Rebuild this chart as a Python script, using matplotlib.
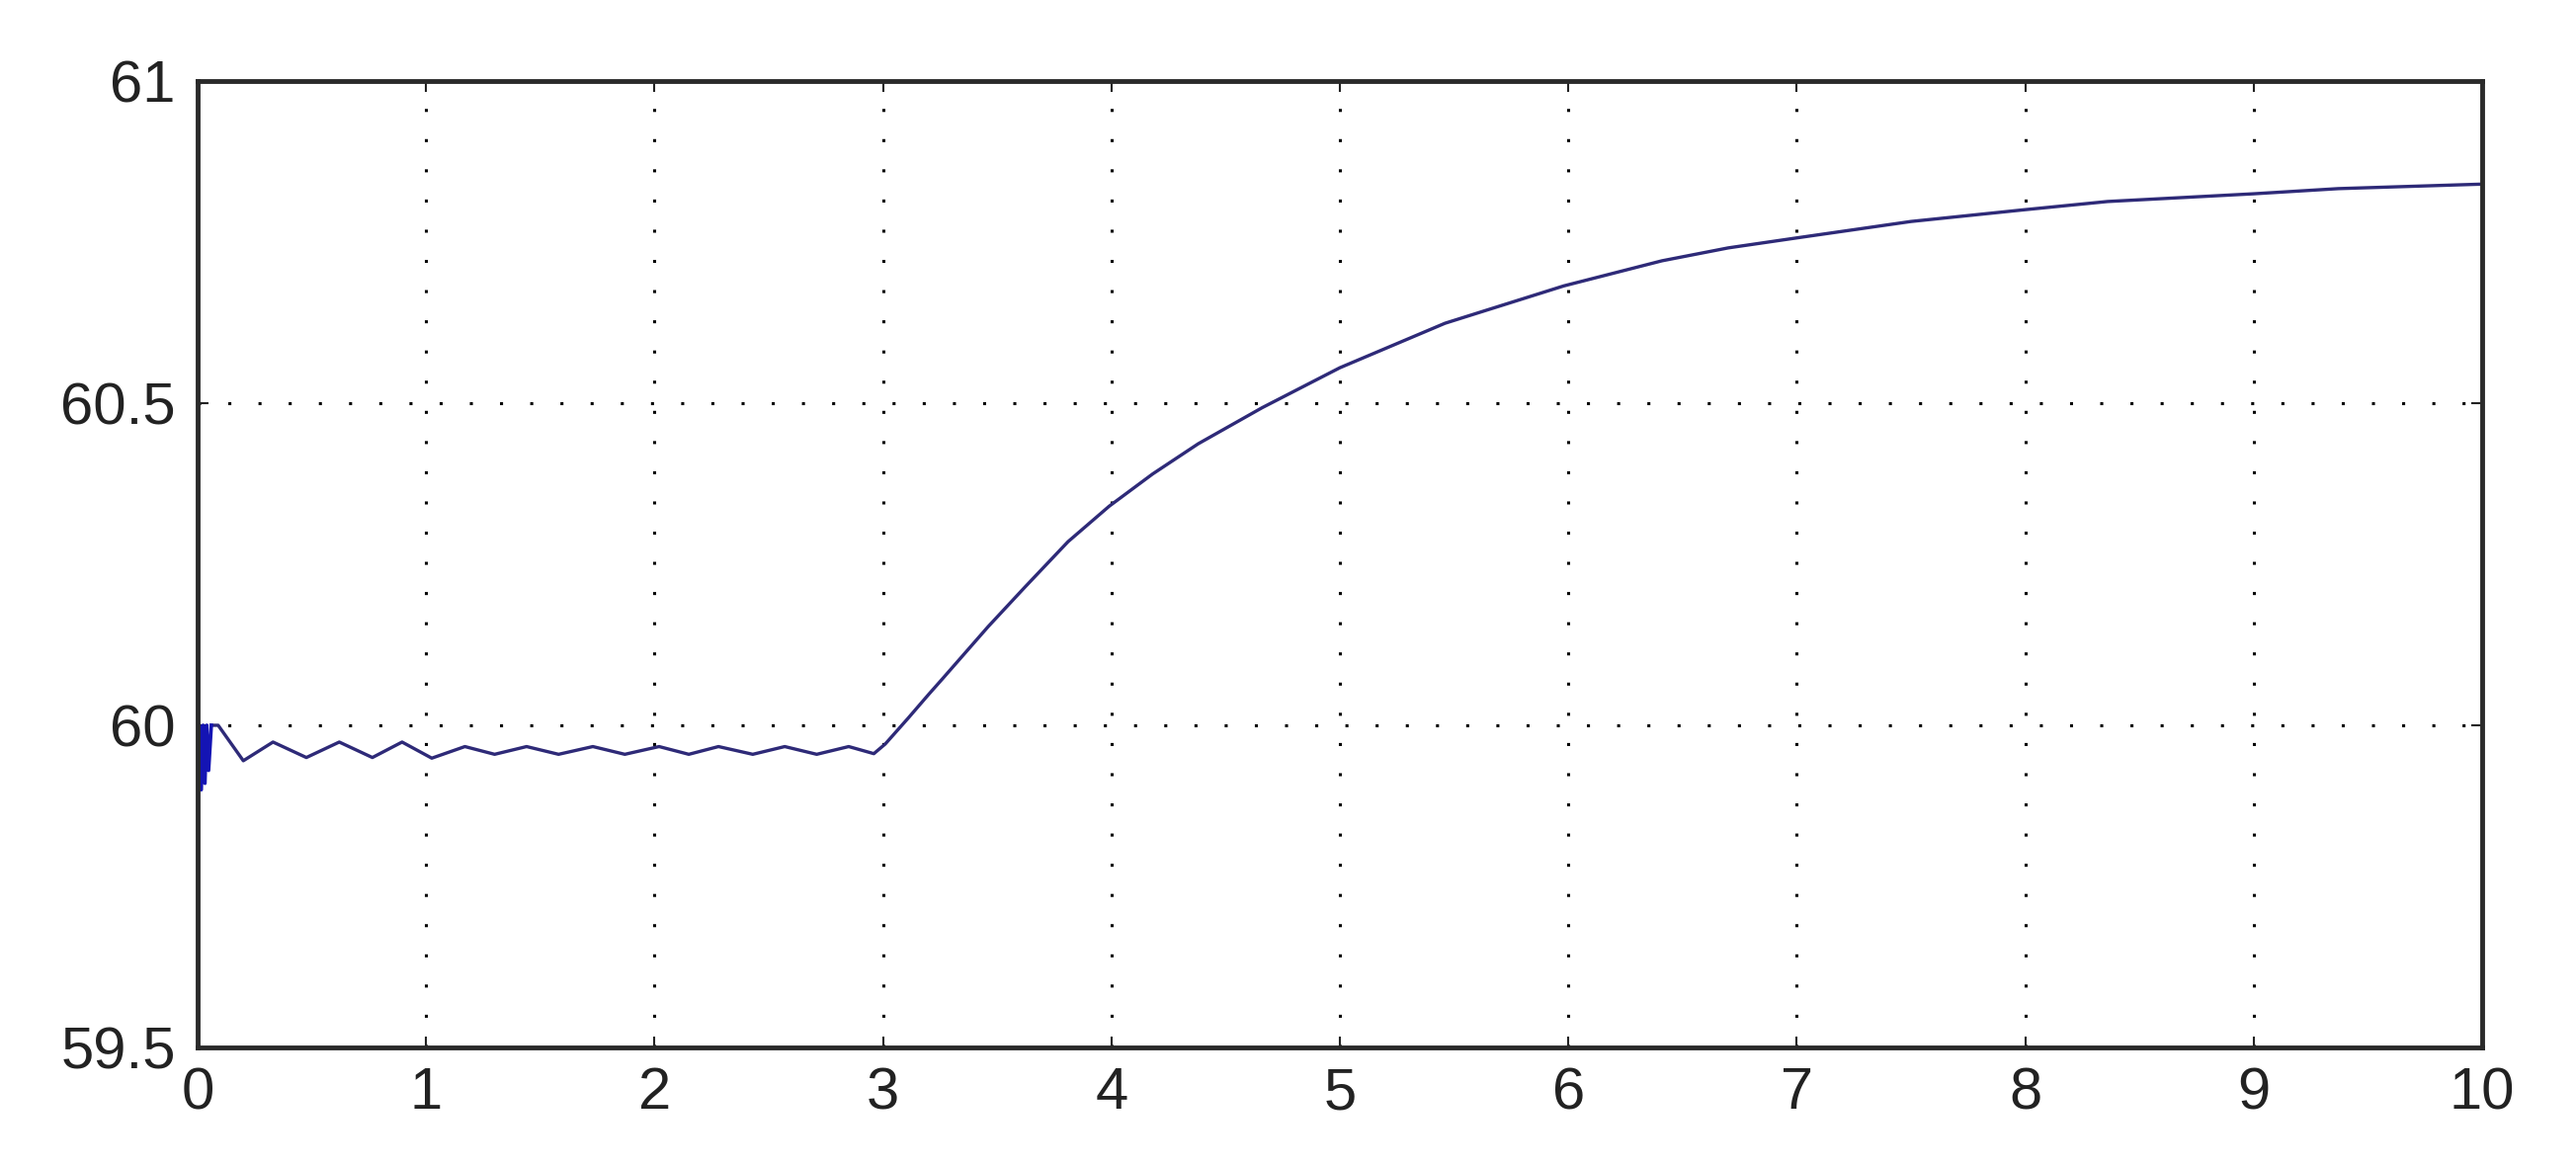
import numpy as np
import matplotlib.pyplot as plt

# startup transient (thick blue burst at t=0)
t_start = [0.0, 0.008, 0.016, 0.024, 0.032, 0.040, 0.048, 0.06]
v_start = [59.90, 60.0, 59.90, 60.0, 59.91, 60.0, 59.93, 60.0]

# rest of the response
t_main = [0.06, 0.09, 0.20, 0.33, 0.476, 0.62, 0.765, 0.895, 1.025, 1.17,
          1.30, 1.44, 1.58, 1.73, 1.87, 2.02, 2.15, 2.28, 2.43, 2.57,
          2.71, 2.85, 2.96, 3.01, 3.11, 3.20, 3.26, 3.46, 3.62, 3.81,
          3.99, 4.18, 4.38, 4.66, 5.00, 5.46, 5.98, 6.41, 6.70, 6.99,
          7.50, 7.99, 8.36, 9.00, 9.37, 10.0]
v_main = [60.0, 60.0, 59.945, 59.974, 59.950, 59.974, 59.950, 59.974, 59.949, 59.967,
          59.955, 59.967, 59.955, 59.967, 59.955, 59.967, 59.955, 59.967, 59.955, 59.967,
          59.955, 59.967, 59.956, 59.971, 60.011, 60.048, 60.072, 60.153, 60.214, 60.285,
          60.340, 60.390, 60.437, 60.493, 60.555, 60.624, 60.682, 60.721, 60.741, 60.756,
          60.782, 60.800, 60.813, 60.825, 60.833, 60.840]

xticks = [0, 1, 2, 3, 4, 5, 6, 7, 8, 9, 10]
yticks = [59.5, 60, 60.5, 61]
ytick_labels = ['59.5', '60', '60.5', '61']

plt.rcParams['font.family'] = ['Liberation Sans', 'DejaVu Sans']

fig = plt.figure(figsize=(26.07, 11.82), dpi=100)
ax = fig.add_axes([200 / 2607, 1 - 1060 / 1182, 2312 / 2607, 978 / 1182])

ax.plot(t_main, v_main, color='#2e2a78', linewidth=2.4)
ax.plot(t_start, v_start, color='#1414b4', linewidth=2.6)

ax.set_xlim(0, 10)
ax.set_ylim(59.5, 61)
ax.set_xticks(xticks)
ax.set_xticklabels([str(x) for x in xticks])
ax.set_yticks(yticks)
ax.set_yticklabels(ytick_labels)

ax.grid(True, color='k', linestyle=(0, (1, 9)), linewidth=2.2)
ax.tick_params(direction='in', length=8, width=1.5, labelsize=43,
               top=True, right=True, colors='#222222')
ax.tick_params(axis='x', pad=14)
ax.tick_params(axis='y', pad=16)

for s in ax.spines.values():
    s.set_linewidth(3.5)
    s.set_color('#2a2a2a')

fig.savefig('out.png', dpi=100, facecolor='white')
